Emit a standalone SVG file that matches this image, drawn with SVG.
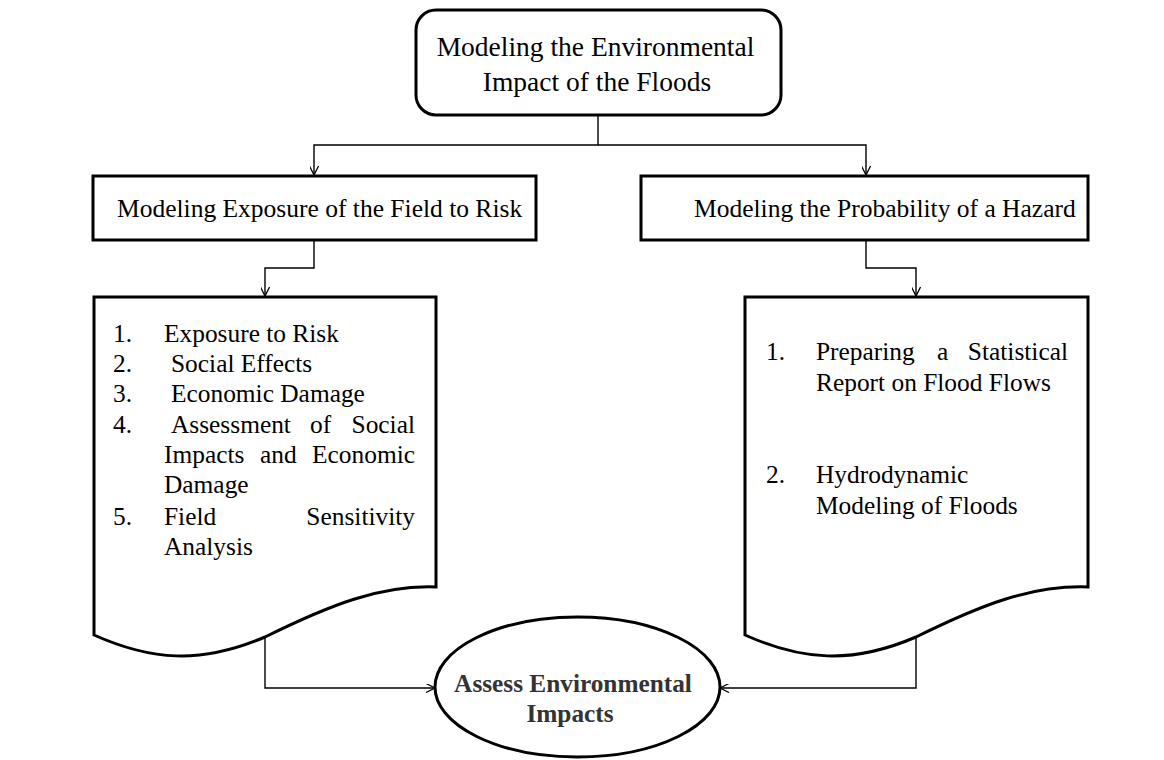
<svg xmlns="http://www.w3.org/2000/svg" width="1164" height="760" viewBox="0 0 1164 760" font-family="'Liberation Serif', 'Times New Roman', Times, serif">
<style>
.box{fill:#fff;stroke:#000;stroke-width:3}
.conn{fill:none;stroke:#000;stroke-width:1.4}
text{fill:#000}
.t{font-size:25.4px}
.h{font-size:27.5px}
.b{font-size:25.3px;font-weight:bold;fill:#333}
</style>
<defs>
<marker id="arr" viewBox="0 0 10 10" refX="10" refY="5" markerWidth="12" markerHeight="9" markerUnits="userSpaceOnUse" orient="auto">
<path d="M0,0 L10,5 L0,10" fill="none" stroke="#000" stroke-width="1.4"/>
</marker>
</defs>
<rect width="1164" height="760" fill="#fff"/>
<g id="connectors">
<path class="conn" d="M598,115 V145 H314 V175" marker-end="url(#arr)"/>
<path class="conn" d="M598,145 H866 V175" marker-end="url(#arr)"/>
<path class="conn" d="M314,240 V268 H265 V296" marker-end="url(#arr)"/>
<path class="conn" d="M866,240 V268 H916 V296" marker-end="url(#arr)"/>
<path class="conn" d="M265,637 V688 H435" marker-end="url(#arr)"/>
<path class="conn" d="M916,637 V688 H720" marker-end="url(#arr)"/>
</g>
<g id="top">
<rect class="box" x="416" y="10" width="365" height="105" rx="20"/>
<text class="h" x="595.5" y="56" text-anchor="middle">Modeling the Environmental</text>
<text class="h" x="597" y="91" text-anchor="middle">Impact of the Floods</text>
</g>
<g id="exposure">
<rect class="box" x="93" y="176" width="443" height="64"/>
<text class="t" x="117" y="217" style="font-size:25.5px">Modeling Exposure of the Field to Risk</text>
</g>
<g id="probability">
<rect class="box" x="641" y="176" width="447" height="64"/>
<text class="t" x="694" y="217" style="font-size:25.5px">Modeling the Probability of a Hazard</text>
</g>
<g id="exposure-list">
<path class="box" d="M94,297 H436 V587 C380,585 330,605 265,637 C200,665 150,660 94,635 Z"/>
<text class="t"><tspan x="113" y="342">1.</tspan><tspan x="164" y="342">Exposure to Risk</tspan></text>
<text class="t"><tspan x="113" y="372">2.</tspan><tspan x="171" y="372">Social Effects</tspan></text>
<text class="t"><tspan x="113" y="402">3.</tspan><tspan x="171" y="402">Economic Damage</tspan></text>
<text class="t"><tspan x="113" y="433">4.</tspan><tspan x="171" y="433">Assessment</tspan><tspan x="310" y="433">of</tspan><tspan x="415" y="433" text-anchor="end">Social</tspan></text>
<text class="t"><tspan x="164" y="463">Impacts</tspan><tspan x="260" y="463">and</tspan><tspan x="415" y="463" text-anchor="end">Economic</tspan></text>
<text class="t"><tspan x="164" y="493">Damage</tspan></text>
<text class="t"><tspan x="113" y="525">5.</tspan><tspan x="164" y="525">Field</tspan><tspan x="415" y="525" text-anchor="end">Sensitivity</tspan></text>
<text class="t"><tspan x="164" y="555">Analysis</tspan></text>
</g>
<g id="hazard-list">
<path class="box" d="M745,297 H1088 V587 C1031,585 981,605 916,637 C851,665 801,660 745,635 Z"/>
<text class="t"><tspan x="766" y="360">1.</tspan><tspan x="816" y="360">Preparing</tspan><tspan x="937" y="360">a</tspan><tspan x="1068" y="360" text-anchor="end">Statistical</tspan></text>
<text class="t"><tspan x="816" y="391">Report on Flood Flows</tspan></text>
<text class="t"><tspan x="766" y="483">2.</tspan><tspan x="816" y="483">Hydrodynamic</tspan></text>
<text class="t"><tspan x="816" y="514">Modeling of Floods</tspan></text>
</g>
<g id="assess">
<ellipse class="box" cx="577.5" cy="687" rx="142.5" ry="70"/>
<text class="b" x="573" y="692" text-anchor="middle">Assess Environmental</text>
<text class="b" x="570" y="722" text-anchor="middle">Impacts</text>
</g>
</svg>
